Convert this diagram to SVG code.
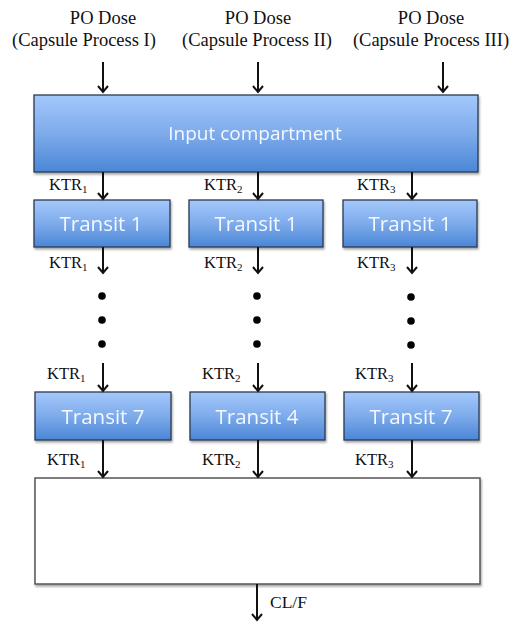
<svg xmlns="http://www.w3.org/2000/svg" width="513" height="624" viewBox="0 0 513 624">
<style>
.lbl{font-family:"Liberation Serif","Times New Roman",serif;font-size:18.5px;fill:#111;text-anchor:middle}
.ktr{font-family:"Liberation Serif","Times New Roman",serif;font-size:16.5px;fill:#111}
.sub{font-size:11px}
.box{fill:url(#g);stroke:#2a3a52;stroke-width:1.3}
.bt{font-family:"Open Sans","Lato",sans-serif;font-size:20.5px;fill:#f4f8ff;text-anchor:middle}
.dot{fill:#000}
</style>
<defs>
<linearGradient id="g" x1="0" y1="0" x2="0" y2="1">
<stop offset="0" stop-color="#a4c8fb"/>
<stop offset="0.5" stop-color="#7eabeb"/>
<stop offset="1" stop-color="#4a86d6"/>
</linearGradient>
<filter id="sh" x="-5%" y="-5%" width="110%" height="115%">
<feDropShadow dx="1" dy="2" stdDeviation="1.2" flood-color="#000" flood-opacity="0.35"/>
</filter>
</defs>
<g id="labels">
<text class="lbl" x="103" y="24">PO Dose</text>
<text class="lbl" x="84" y="46">(Capsule Process I)</text>
<text class="lbl" x="258" y="24">PO Dose</text>
<text class="lbl" x="257" y="46">(Capsule Process II)</text>
<text class="lbl" x="431" y="24">PO Dose</text>
<text class="lbl" x="431" y="46">(Capsule Process III)</text>
</g>
<g id="input" filter="url(#sh)">
<rect class="box" x="34" y="95" width="444" height="77"/>
<text class="bt" x="255" y="140" style="font-size:19px">Input compartment</text>
</g>
<g id="t1a" filter="url(#sh)"><rect class="box" x="34" y="200" width="136" height="47"/><text class="bt" x="101" y="231">Transit 1</text></g>
<g id="t1b" filter="url(#sh)"><rect class="box" x="189" y="200" width="134" height="47"/><text class="bt" x="256" y="231">Transit 1</text></g>
<g id="t1c" filter="url(#sh)"><rect class="box" x="343" y="200" width="134" height="47"/><text class="bt" x="410" y="231">Transit 1</text></g>
<g id="t7a" filter="url(#sh)"><rect class="box" x="35" y="392" width="136" height="48"/><text class="bt" x="103" y="424">Transit 7</text></g>
<g id="t4b" filter="url(#sh)"><rect class="box" x="190" y="392" width="135" height="48"/><text class="bt" x="257" y="424">Transit 4</text></g>
<g id="t7c" filter="url(#sh)"><rect class="box" x="344" y="392" width="135" height="48"/><text class="bt" x="411" y="424">Transit 7</text></g>
<g id="central" filter="url(#sh)"><rect x="35" y="478" width="445" height="106" fill="#fff" stroke="#555" stroke-width="1.5"/></g>
<g id="connectors">
<g stroke="#111" stroke-width="2" fill="none">
<path d="M103 62V92M258 62V92M443 62V92"/>
<path d="M103 172V199M258 172V199M412 172V199"/>
<path d="M103 247V273M258 247V273M412 247V273"/>
<path d="M103 363V391M258 363V391M412 363V391"/>
<path d="M103 440V477M258 440V477M412 440V477"/>
<path d="M257 584V620"/>
<g stroke-linejoin="miter">
<path d="M98 86L103 92L108 86M253 86L258 92L263 86M438 86L443 92L448 86"/>
<path d="M98 193L103 199L108 193M253 193L258 199L263 193M407 193L412 199L417 193"/>
<path d="M98 267L103 273L108 267M253 267L258 273L263 267M407 267L412 273L417 267"/>
<path d="M98 385L103 391L108 385M253 385L258 391L263 385M407 385L412 391L417 385"/>
<path d="M98 471L103 477L108 471M253 471L258 477L263 471M407 471L412 477L417 471"/>
<path d="M252 614L257 620L262 614"/>
</g>
</g>
<g class="dot">
<circle cx="102" cy="296" r="3.8"/><circle cx="102" cy="320" r="3.8"/><circle cx="102" cy="344" r="3.8"/>
<circle cx="257" cy="296" r="3.8"/><circle cx="257" cy="320" r="3.8"/><circle cx="257" cy="344" r="3.8"/>
<circle cx="411" cy="297" r="3.8"/><circle cx="411" cy="321" r="3.8"/><circle cx="411" cy="345" r="3.8"/>
</g>
<g class="ktr">
<text x="49" y="190">KTR<tspan class="sub" dy="3">1</tspan></text>
<text x="204" y="190">KTR<tspan class="sub" dy="3">2</tspan></text>
<text x="357" y="190">KTR<tspan class="sub" dy="3">3</tspan></text>
<text x="49" y="268">KTR<tspan class="sub" dy="3">1</tspan></text>
<text x="204" y="268">KTR<tspan class="sub" dy="3">2</tspan></text>
<text x="357" y="268">KTR<tspan class="sub" dy="3">3</tspan></text>
<text x="47" y="379">KTR<tspan class="sub" dy="3">1</tspan></text>
<text x="202" y="379">KTR<tspan class="sub" dy="3">2</tspan></text>
<text x="355" y="379">KTR<tspan class="sub" dy="3">3</tspan></text>
<text x="47" y="465">KTR<tspan class="sub" dy="3">1</tspan></text>
<text x="202" y="465">KTR<tspan class="sub" dy="3">2</tspan></text>
<text x="355" y="465">KTR<tspan class="sub" dy="3">3</tspan></text>
<text x="270" y="608" style="font-size:17.5px">CL/F</text>
</g>
</g>
</svg>
